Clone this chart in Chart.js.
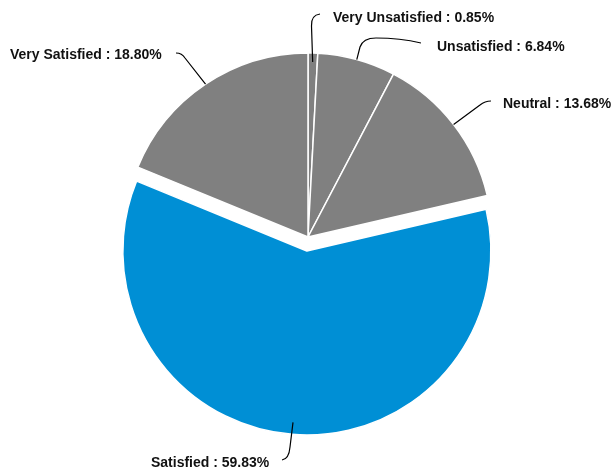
<!DOCTYPE html>
<html>
<head>
<meta charset="utf-8">
<script src="https://cdn.jsdelivr.net/npm/chart.js@4/dist/chart.umd.min.js"></script>
<style>
  html, body { margin: 0; padding: 0; background: #fff; }
  canvas { display: block; }
</style>
</head>
<body>
<canvas id="pieChart" width="614" height="470"></canvas>
<script>
// datos del grafico
const categorias = ['Very Unsatisfied', 'Unsatisfied', 'Neutral', 'Satisfied', 'Very Satisfied'];
const porcentajes = [0.85, 6.84, 13.68, 59.83, 18.80];
const colores = ['#808080', '#808080', '#808080', '#008fd5', '#808080'];
const desplazamientos = [0, 0, 0, 14, 0];

// donde va cada etiqueta y como se dobla su linea guia
const guias = [
    { tx: 333, ty: 18, inset: 9, segs: [['L', 311.5, 26], ['Q', 311, 15, 320, 14]] },
    { tx: 437, ty: 47, inset: 0, segs: [['L', 360, 47], ['Q', 363, 38, 376, 38], ['Q', 400, 38, 421, 43]] },
    { tx: 503, ty: 104, inset: 0, segs: [['L', 480, 105], ['Q', 485, 101, 491, 101]] },
    { tx: 151, ty: 463, inset: 12, segs: [['L', 290, 447], ['Q', 289, 459, 282, 460]] },
    { tx: 10, ty: 55, inset: 0, segs: [['L', 185, 58], ['Q', 182, 53, 176, 53]] }
];

// separa la porcion del centro (Chart.js agranda el radio con offset, aqui solo se traslada)
const separarPlugin = {
    id: 'separar',
    afterUpdate(chart) {
        chart.getDatasetMeta(0).data.forEach((arc, i) => {
            const d = desplazamientos[i];
            if (!d) return;
            const medio = (arc.startAngle + arc.endAngle) / 2;
            arc.x += Math.cos(medio) * d;
            arc.y += Math.sin(medio) * d;
        });
    }
};

const etiquetasPlugin = {
    id: 'etiquetas',
    afterDraw(chart) {
        const ctx = chart.ctx;
        const arcos = chart.getDatasetMeta(0).data;
        ctx.save();
        ctx.strokeStyle = '#000';
        ctx.lineWidth = 1.2;
        ctx.fillStyle = '#111';
        ctx.font = 'bold 14px "Liberation Sans", Arial, sans-serif';
        ctx.textBaseline = 'middle';
        ctx.textAlign = 'left';
        arcos.forEach((arc, i) => {
            const p = arc.getProps(['x', 'y', 'startAngle', 'endAngle', 'outerRadius']);
            const g = guias[i];
            const medio = (p.startAngle + p.endAngle) / 2;
            const r = p.outerRadius - g.inset;
            const x0 = p.x + Math.cos(medio) * r;
            const y0 = p.y + Math.sin(medio) * r;
            ctx.beginPath();
            ctx.moveTo(x0, y0);
            g.segs.forEach(s => {
                if (s[0] === 'L') ctx.lineTo(s[1], s[2]);
                else ctx.quadraticCurveTo(s[1], s[2], s[3], s[4]);
            });
            ctx.stroke();
            ctx.fillText(categorias[i] + ' : ' + porcentajes[i].toFixed(2) + '%', g.tx, g.ty);
        });
        ctx.restore();
    }
};

const ctx = document.getElementById('pieChart').getContext('2d');
new Chart(ctx, {
    type: 'pie',
    data: {
        labels: categorias,
        datasets: [{
            data: porcentajes,
            backgroundColor: colores,
            borderColor: '#ffffff',
            borderWidth: 1.5,
            hoverOffset: 0
        }]
    },
    options: {
        responsive: false,
        animation: false,
        radius: 184,
        layout: { padding: { left: 2, right: 0, top: 4, bottom: 0 } },
        plugins: { legend: { display: false }, tooltip: { enabled: false } }
    },
    plugins: [separarPlugin, etiquetasPlugin]
});
</script>
</body>
</html>
